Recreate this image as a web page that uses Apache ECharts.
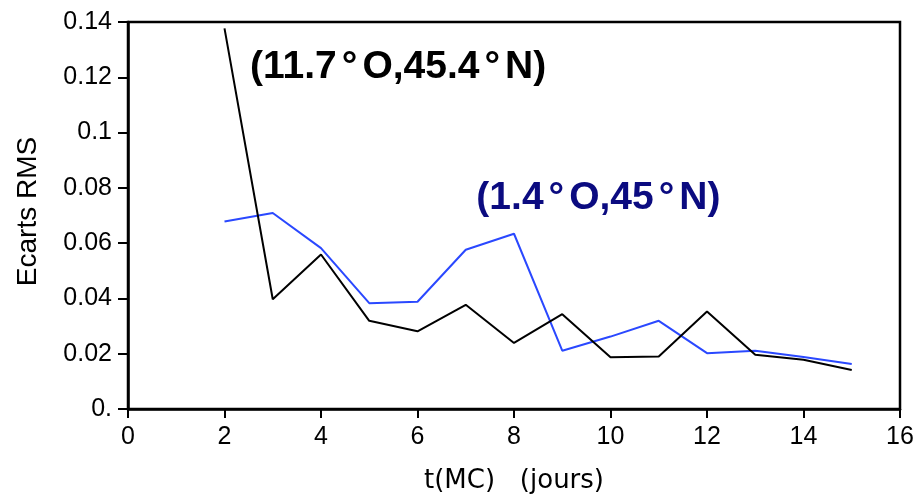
<!DOCTYPE html>
<html>
<head>
<meta charset="utf-8">
<script src="https://cdn.jsdelivr.net/npm/echarts@6/dist/echarts.min.js"></script>
<style>
  html, body { margin: 0; padding: 0; background: #fff; }
  #chart { width: 915px; height: 495px; }
</style>
</head>
<body>
<div id="chart"></div>
<script>
// Lead time in days (x) and RMS deviation for two grid points
const leadDays = [2, 3, 4, 5, 6, 7, 8, 9, 10, 11, 12, 13, 14, 15];
const rmsWest = [0.1377, 0.0397, 0.0559, 0.0319, 0.0281, 0.0377, 0.0239, 0.0343, 0.0187, 0.0190, 0.0353, 0.0196, 0.0178, 0.0141];
const rmsEast = [0.0678, 0.0709, 0.0582, 0.0383, 0.0388, 0.0576, 0.0634, 0.0211, 0.0262, 0.0319, 0.0202, 0.0211, 0.0188, 0.0163];

const xTickLabels = ['0', '2', '4', '6', '8', '10', '12', '14', '16'];
const yTickLabels = ['0.', '0.02', '0.04', '0.06', '0.08', '0.1', '0.12', '0.14'];

// Point labels: text and anchor (left edge, vertical middle) in data units
const noteTexts = ['(11.7{d|°}O,45.4{d|°}N)', '(1.4{d|°}O,45{d|°}N)'];
const noteAnchors = [[2.53, 0.1235], [7.22, 0.0764]];
const noteColors = ['#000000', '#0b0b80'];

const pairs = (xs, ys) => xs.map((x, i) => [x, ys[i]]);

const chart = echarts.init(document.getElementById('chart'), null, { renderer: 'canvas' });

const option = {
  animation: false,
  backgroundColor: '#ffffff',
  grid: {
    left: 128, right: 15, top: 22, bottom: 86,
    containLabel: false, outerBoundsMode: 'none',
    show: true, borderColor: '#000', borderWidth: 2.5, backgroundColor: 'transparent'
  },
  xAxis: {
    type: 'value', min: 0, max: 16, interval: 2,
    name: 't(MC)   (jours)', nameLocation: 'middle', nameGap: 59,
    nameTextStyle: { fontFamily: 'DejaVu Sans', fontSize: 26, color: '#000' },
    axisLine: { show: true, lineStyle: { color: '#000', width: 2.5 } },
    axisTick: { show: true, length: 9, lineStyle: { color: '#000', width: 2 } },
    splitLine: { show: false },
    axisLabel: {
      fontFamily: 'Liberation Sans', fontSize: 25, color: '#000', margin: 16,
      formatter: v => xTickLabels[Math.round(v / 2)]
    }
  },
  yAxis: {
    type: 'value', min: 0, max: 0.14, interval: 0.02,
    name: 'Ecarts RMS', nameLocation: 'middle', nameGap: 86, nameRotate: 90,
    nameTextStyle: { fontFamily: 'Liberation Sans', fontSize: 28, color: '#000', padding: [0, 0, 0, 8] },
    axisLine: { show: true, lineStyle: { color: '#000', width: 2.5 } },
    axisTick: { show: true, length: 10, lineStyle: { color: '#000', width: 2 } },
    splitLine: { show: false },
    axisLabel: {
      fontFamily: 'Liberation Sans', fontSize: 25, color: '#000', margin: 16,
      formatter: v => yTickLabels[Math.round(v / 0.02)]
    }
  },
  series: [
    {
      type: 'line', data: pairs(leadDays, rmsWest), showSymbol: false,
      lineStyle: { color: '#000000', width: 2 }, z: 3
    },
    {
      type: 'line', data: pairs(leadDays, rmsEast), showSymbol: false,
      lineStyle: { color: '#2a48ff', width: 2 }, z: 2
    }
  ]
};

chart.setOption(option);

// Place the location labels at their data-space anchors
const graphics = noteTexts.map((t, i) => {
  const p = chart.convertToPixel({ gridIndex: 0 }, noteAnchors[i]);
  return {
    type: 'text', x: p[0], y: p[1], z: 10,
    style: {
      text: t, fill: noteColors[i],
      font: 'bold 39px "Liberation Sans", Arial, sans-serif',
      align: 'left', verticalAlign: 'middle',
      rich: { d: { fill: noteColors[i], font: 'bold 39px "Liberation Sans", Arial, sans-serif', padding: [0, 5, 0, 5] } }
    }
  };
});
chart.setOption({ graphic: graphics });
</script>
</body>
</html>
